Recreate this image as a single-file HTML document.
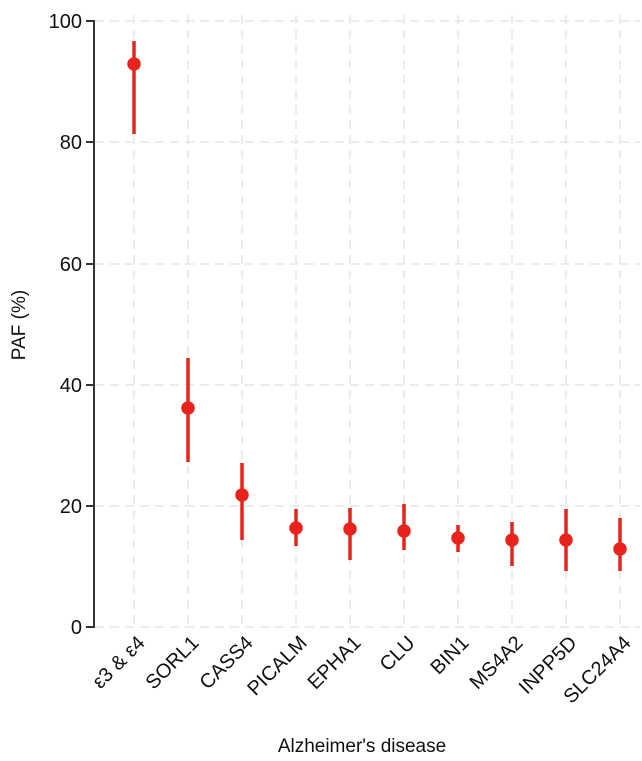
<!DOCTYPE html>
<html><head><meta charset="utf-8"><style>body{margin:0;background:#fff}svg{display:block}text{font-family:"Liberation Sans",Arial,sans-serif;fill:#111}</style></head>
<body>
<svg width="642" height="761" viewBox="0 0 642 761">
<g stroke="#e6e6e6" stroke-width="1.5" stroke-dasharray="9,6">
<line x1="95" y1="21" x2="640" y2="21"/><line x1="95" y1="142" x2="640" y2="142"/><line x1="95" y1="264" x2="640" y2="264"/><line x1="95" y1="385" x2="640" y2="385"/><line x1="95" y1="506" x2="640" y2="506"/><line x1="95" y1="627" x2="640" y2="627"/>
<line x1="134" y1="15" x2="134" y2="627"/><line x1="188" y1="15" x2="188" y2="627"/><line x1="242" y1="15" x2="242" y2="627"/><line x1="296" y1="15" x2="296" y2="627"/><line x1="350" y1="15" x2="350" y2="627"/><line x1="404" y1="15" x2="404" y2="627"/><line x1="458" y1="15" x2="458" y2="627"/><line x1="512" y1="15" x2="512" y2="627"/><line x1="566" y1="15" x2="566" y2="627"/><line x1="620" y1="15" x2="620" y2="627"/>
</g>
<g stroke="#333" stroke-width="2">
<line x1="94" y1="20" x2="94" y2="628"/>
<line x1="86" y1="21" x2="94" y2="21"/><line x1="86" y1="142" x2="94" y2="142"/><line x1="86" y1="264" x2="94" y2="264"/><line x1="86" y1="385" x2="94" y2="385"/><line x1="86" y1="506" x2="94" y2="506"/><line x1="86" y1="627" x2="94" y2="627"/>
</g>
<g font-size="20" text-anchor="end">
<text x="82" y="28">100</text><text x="82" y="149">80</text><text x="82" y="271">60</text><text x="82" y="392">40</text><text x="82" y="513">20</text><text x="82" y="634">0</text>
</g>
<g stroke="#e8231c" stroke-width="3.5" fill="#e8231c">
<line x1="134" y1="41" x2="134" y2="134"/><circle cx="134" cy="64" r="5"/>
<line x1="188" y1="358" x2="188" y2="462"/><circle cx="188" cy="408" r="5"/>
<line x1="242" y1="463" x2="242" y2="540"/><circle cx="242" cy="495" r="5"/>
<line x1="296" y1="509" x2="296" y2="546"/><circle cx="296" cy="528" r="5"/>
<line x1="350" y1="508" x2="350" y2="560"/><circle cx="350" cy="529" r="5"/>
<line x1="404" y1="504" x2="404" y2="550"/><circle cx="404" cy="531" r="5"/>
<line x1="458" y1="525" x2="458" y2="552"/><circle cx="458" cy="538" r="5"/>
<line x1="512" y1="522" x2="512" y2="566"/><circle cx="512" cy="540" r="5"/>
<line x1="566" y1="509" x2="566" y2="571"/><circle cx="566" cy="540" r="5"/>
<line x1="620" y1="518" x2="620" y2="571"/><circle cx="620" cy="549" r="5"/>
</g>
<g font-size="20" text-anchor="end">
<text transform="translate(146,644) rotate(-45)">ε3 &amp; ε4</text>
<text transform="translate(200,644) rotate(-45)">SORL1</text>
<text transform="translate(254,644) rotate(-45)">CASS4</text>
<text transform="translate(308,644) rotate(-45)">PICALM</text>
<text transform="translate(362,644) rotate(-45)">EPHA1</text>
<text transform="translate(416,644) rotate(-45)">CLU</text>
<text transform="translate(470,644) rotate(-45)">BIN1</text>
<text transform="translate(524,644) rotate(-45)">MS4A2</text>
<text transform="translate(578,644) rotate(-45)">INPP5D</text>
<text transform="translate(632,644) rotate(-45)">SLC24A4</text>
</g>
<text x="362" y="752" font-size="19" text-anchor="middle">Alzheimer's disease</text>
<text transform="translate(25,325) rotate(-90)" font-size="19" text-anchor="middle">PAF (%)</text>
</svg>
</body></html>
